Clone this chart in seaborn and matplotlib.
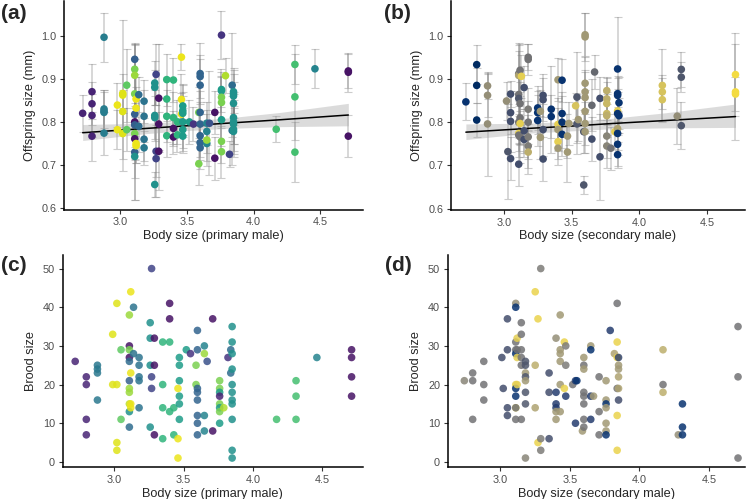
import numpy as np
import pandas as pd
import matplotlib
matplotlib.use("Agg")
import matplotlib.pyplot as plt
import seaborn as sns

# ---- panel (a): offspring size vs primary male body size (viridis colour) ----
a_x = [2.72,
       2.79, 2.79, 2.79, 2.79,
       2.88, 2.88, 2.88, 2.88, 2.88,
       2.98, 2.98,
       3.02, 3.02, 3.02, 3.02,
       3.05, 3.05,
       3.11, 3.11, 3.11, 3.11, 3.11, 3.11, 3.11, 3.11, 3.11, 3.11, 3.11,
       3.12, 3.12, 3.12, 3.12,
       3.14, 3.14,
       3.18, 3.18, 3.18, 3.18,
       3.26, 3.26, 3.26, 3.26, 3.26,
       3.27, 3.27, 3.27,
       3.29, 3.29, 3.29,
       3.35, 3.35, 3.35, 3.35,
       3.40, 3.40, 3.40, 3.40,
       3.43, 3.43,
       3.46, 3.46, 3.46,
       3.47, 3.47, 3.47, 3.47, 3.47, 3.47,
       3.52, 3.55,
       3.59, 3.59,
       3.60, 3.60, 3.60, 3.60, 3.60, 3.60, 3.60, 3.60,
       3.65, 3.65, 3.65, 3.65,
       3.67,
       3.71, 3.71,
       3.76, 3.76, 3.76, 3.76, 3.76, 3.76, 3.76, 3.76,
       3.79, 3.82,
       3.84, 3.84,
       3.85, 3.85, 3.85, 3.85, 3.85, 3.85, 3.85, 3.85, 3.85,
       4.17,
       4.31, 4.31, 4.31,
       4.46,
       4.71, 4.71, 4.71]
a_y = [0.820,
       0.870, 0.842, 0.815, 0.767,
       0.996, 0.830, 0.825, 0.822, 0.774,
       0.839, 0.782,
       0.866, 0.862, 0.824, 0.773,
       0.885, 0.782,
       0.945, 0.922, 0.908, 0.865, 0.818, 0.800, 0.793, 0.773, 0.761, 0.730, 0.720,
       0.853, 0.832, 0.750, 0.745,
       0.863, 0.790,
       0.848, 0.813, 0.760, 0.740,
       0.890, 0.880, 0.815, 0.810, 0.655,
       0.910, 0.732, 0.715,
       0.855, 0.795, 0.732,
       0.898, 0.853, 0.813, 0.768,
       0.897, 0.810, 0.785, 0.765,
       0.800, 0.770,
       0.950, 0.852, 0.818,
       0.837, 0.826, 0.820, 0.800, 0.782, 0.767,
       0.800, 0.795,
       0.822, 0.703,
       0.912, 0.905, 0.885, 0.822, 0.795, 0.768, 0.752, 0.740,
       0.797, 0.778, 0.750, 0.758,
       0.797,
       0.822, 0.716,
       1.001, 0.875, 0.872, 0.857, 0.845, 0.805, 0.755, 0.731,
       0.907, 0.725,
       0.885, 0.780,
       0.870, 0.865, 0.860, 0.843, 0.810, 0.800, 0.795, 0.783, 0.778,
       0.783,
       0.933, 0.858, 0.730,
       0.923,
       0.918, 0.915, 0.767]
a_err = [0.043,
         0.063, 0.050, 0.050, 0.057,
         0.057, 0.045, 0.050, 0.048, 0.050,
         0.050, 0.045,
         0.045, 0.175, 0.050, 0.060,
         0.085, 0.050,
         0.035, 0.060, 0.070, 0.080, 0.050, 0.180, 0.050, 0.060, 0.050, 0.060, 0.100,
         0.050, 0.050, 0.045, 0.040,
         0.040, 0.060,
         0.050, 0.060, 0.050, 0.040,
         0.050, 0.040, 0.060, 0.050, 0.030,
         0.070, 0.060, 0.090,
         0.125, 0.060, 0.090,
         0.060, 0.050, 0.060, 0.050,
         0.050, 0.060, 0.040, 0.040,
         0.050, 0.040,
         0.030, 0.060, 0.050,
         0.050, 0.060, 0.050, 0.060, 0.050, 0.040,
         0.050, 0.040,
         0.060, 0.050,
         0.070, 0.050, 0.060, 0.050, 0.050, 0.050, 0.040, 0.050,
         0.050, 0.050, 0.040, 0.060,
         0.120,
         0.050, 0.050,
         0.055, 0.040, 0.050, 0.050, 0.060, 0.060, 0.050, 0.060,
         0.040, 0.030,
         0.120, 0.080,
         0.050, 0.060, 0.050, 0.050, 0.060, 0.050, 0.070, 0.050, 0.060,
         0.030,
         0.045, 0.100, 0.070,
         0.045,
         0.040, 0.045, 0.048]
a_col = [0.10,
         0.10, 0.10, 0.10, 0.10,
         0.42, 0.42, 0.42, 0.42, 0.42,
         0.97, 0.97,
         0.95, 0.95, 0.95, 0.95,
         0.75, 0.75,
         0.30, 0.80, 0.85, 0.80, 0.30, 0.05, 0.30, 0.80, 0.05, 0.30, 0.50,
         0.97, 0.97, 0.97, 0.97,
         0.35, 0.35,
         0.38, 0.38, 0.38, 0.40,
         0.50, 0.50, 0.50, 0.50, 0.50,
         0.20, 0.20, 0.20,
         0.05, 0.05, 0.05,
         0.65, 0.65, 0.65, 0.65,
         0.65, 0.65, 0.05, 0.05,
         0.65, 0.65,
         0.97, 0.97, 0.97,
         0.55, 0.55, 0.55, 0.55, 0.55, 0.55,
         0.55, 0.15,
         0.80, 0.80,
         0.32, 0.32, 0.32, 0.32, 0.32, 0.32, 0.32, 0.32,
         0.45, 0.45, 0.45, 0.85,
         0.25,
         0.05, 0.05,
         0.15, 0.55, 0.55, 0.80, 0.80, 0.55, 0.80, 0.80,
         0.88, 0.20,
         0.35, 0.35,
         0.50, 0.50, 0.50, 0.50, 0.50, 0.50, 0.50, 0.50, 0.50,
         0.70,
         0.70, 0.70, 0.70,
         0.45,
         0.05, 0.05, 0.05]
# model fit (line and 95% band)
a_fit_x = [2.72, 3.20, 3.50, 3.80, 4.20, 4.71]
a_fit_y = [0.775, 0.785, 0.791, 0.797, 0.805, 0.816]
a_fit_lo = [0.757, 0.773, 0.780, 0.785, 0.789, 0.791]
a_fit_hi = [0.794, 0.797, 0.802, 0.809, 0.822, 0.843]

# ---- panel (b): offspring size vs secondary male body size (cividis colour) ----
b_x = [2.72,
       2.80, 2.80, 2.80,
       2.88, 2.88, 2.88,
       3.02, 3.03,
       3.05, 3.05, 3.05, 3.05,
       3.11, 3.11, 3.11, 3.11, 3.11, 3.11, 3.11, 3.11,
       3.12, 3.12, 3.12, 3.12, 3.12,
       3.13,
       3.15, 3.15, 3.15,
       3.18, 3.18, 3.18, 3.18, 3.18, 3.18, 3.18,
       3.25, 3.25, 3.25,
       3.27, 3.27,
       3.29, 3.29, 3.29, 3.29,
       3.35, 3.35,
       3.40, 3.40, 3.40, 3.40, 3.40,
       3.43, 3.43, 3.43, 3.43,
       3.47, 3.47, 3.48,
       3.53,
       3.54, 3.54,
       3.55,
       3.59, 3.59,
       3.60, 3.60, 3.60, 3.60, 3.60, 3.60, 3.60, 3.60,
       3.65, 3.65,
       3.67,
       3.71, 3.71,
       3.76, 3.76, 3.76, 3.76, 3.76, 3.76, 3.76,
       3.79, 3.82,
       3.84, 3.84, 3.84, 3.84, 3.84, 3.84, 3.84, 3.84, 3.84,
       3.85, 3.85,
       4.17, 4.17, 4.17,
       4.28,
       4.31, 4.31, 4.31,
       4.71, 4.71, 4.71]
b_y = [0.847,
       0.933, 0.885, 0.805,
       0.884, 0.862, 0.796,
       0.849, 0.732,
       0.865, 0.822, 0.802, 0.716,
       0.912, 0.908, 0.864, 0.855, 0.800, 0.774, 0.770, 0.703,
       0.920, 0.843, 0.810, 0.797, 0.766,
       0.906,
       0.880, 0.780, 0.760,
       0.950, 0.945, 0.830, 0.800, 0.766, 0.745, 0.731,
       0.833, 0.822, 0.804,
       0.825, 0.765,
       0.862, 0.852, 0.783, 0.715,
       0.830, 0.813,
       0.898, 0.795, 0.783, 0.755, 0.740,
       0.897, 0.820, 0.800, 0.772,
       0.768, 0.731, 0.797,
       0.838,
       0.858, 0.796,
       0.806,
       0.778, 0.655,
       1.002, 0.997, 0.890, 0.870, 0.857, 0.825, 0.797, 0.778,
       0.839, 0.761,
       0.916,
       0.855, 0.720,
       0.873, 0.854, 0.843, 0.820, 0.815, 0.768, 0.745,
       0.740, 0.778,
       0.923, 0.866, 0.862, 0.826, 0.820, 0.785, 0.774, 0.749, 0.725,
       0.845, 0.815,
       0.885, 0.870, 0.852,
       0.814,
       0.922, 0.904, 0.792,
       0.910, 0.870, 0.865]
b_err = [0.043,
         0.045, 0.040, 0.040,
         0.030, 0.050, 0.120,
         0.045, 0.110,
         0.030, 0.050, 0.070, 0.050,
         0.070, 0.070, 0.100, 0.060, 0.050, 0.040, 0.050, 0.050,
         0.060, 0.050, 0.060, 0.050, 0.060,
         0.050,
         0.050, 0.050, 0.040,
         0.030, 0.035, 0.050, 0.050, 0.050, 0.050, 0.050,
         0.050, 0.050, 0.060,
         0.050, 0.050,
         0.050, 0.050, 0.060, 0.050,
         0.100, 0.050,
         0.050, 0.060, 0.050, 0.040, 0.040,
         0.050, 0.050, 0.060, 0.050,
         0.050, 0.070, 0.050,
         0.030,
         0.105, 0.070,
         0.050,
         0.050, 0.020,
         0.050, 0.055, 0.060, 0.050, 0.060, 0.050, 0.050, 0.050,
         0.060, 0.050,
         0.040,
         0.050, 0.100,
         0.030, 0.050, 0.050, 0.050, 0.050, 0.050, 0.050,
         0.050, 0.040,
         0.120, 0.040, 0.040, 0.050, 0.050, 0.050, 0.050, 0.050, 0.030,
         0.060, 0.040,
         0.085, 0.040, 0.050,
         0.065,
         0.040, 0.035, 0.055,
         0.095, 0.110, 0.040]
b_col = [0.10,
         0.05, 0.05, 0.05,
         0.60, 0.60, 0.60,
         0.60, 0.30,
         0.25, 0.25, 0.25, 0.25,
         0.45, 0.70, 0.45, 0.30, 0.45, 0.90, 0.45, 0.25,
         0.45, 0.45, 0.45, 0.90, 0.45,
         0.90,
         0.25, 0.25, 0.25,
         0.45, 0.45, 0.50, 0.45, 0.50, 0.50, 0.75,
         0.10, 0.10, 0.10,
         0.65, 0.65,
         0.25, 0.25, 0.25, 0.25,
         0.10, 0.10,
         0.65, 0.90, 0.65, 0.90, 0.65,
         0.10, 0.10, 0.10, 0.10,
         0.65, 0.65, 0.65,
         0.85,
         0.30, 0.30,
         0.65,
         0.30, 0.30,
         0.65, 0.65, 0.65, 0.65, 0.65, 0.65, 0.65, 0.65,
         0.40, 0.25,
         0.40,
         0.25, 0.25,
         0.75, 0.75, 0.80, 0.80, 0.75, 0.55, 0.55,
         0.45, 0.90,
         0.10, 0.10, 0.10, 0.90, 0.10, 0.70, 0.10, 0.10, 0.10,
         0.10, 0.10,
         0.85, 0.85, 0.85,
         0.60,
         0.30, 0.30, 0.30,
         0.95, 0.95, 0.95]
b_fit_x = [2.72, 3.20, 3.50, 3.80, 4.20, 4.71]
b_fit_y = [0.777, 0.786, 0.791, 0.797, 0.804, 0.813]
b_fit_lo = [0.760, 0.775, 0.780, 0.785, 0.787, 0.788]
b_fit_hi = [0.796, 0.798, 0.802, 0.809, 0.822, 0.842]

# ---- panel (c): brood size vs primary male body size ----
c_x = [2.72,
       2.80, 2.80, 2.80, 2.80,
       2.88, 2.88, 2.88, 2.88,
       2.99, 2.99,
       3.02, 3.02, 3.02, 3.02,
       3.05, 3.05,
       3.11, 3.11, 3.11, 3.11, 3.11, 3.11, 3.11, 3.11, 3.11, 3.11, 3.11,
       3.12, 3.12, 3.12, 3.12,
       3.14, 3.14,
       3.18, 3.18, 3.18, 3.18, 3.18,
       3.26, 3.26, 3.26, 3.26,
       3.27, 3.27, 3.27,
       3.29, 3.29, 3.29,
       3.35, 3.35, 3.35, 3.35,
       3.40, 3.40, 3.40, 3.40,
       3.43, 3.43,
       3.46, 3.46, 3.46,
       3.47, 3.47, 3.47, 3.47, 3.47, 3.47,
       3.52, 3.55,
       3.59, 3.59,
       3.60, 3.60, 3.60, 3.60, 3.60, 3.60, 3.60, 3.60,
       3.65, 3.65, 3.65, 3.65,
       3.67,
       3.71, 3.71,
       3.76, 3.76, 3.76, 3.76, 3.76, 3.76, 3.76, 3.76,
       3.79, 3.82,
       3.84, 3.84,
       3.85, 3.85, 3.85, 3.85, 3.85, 3.85, 3.85, 3.85, 3.85, 3.85, 3.85,
       4.17,
       4.31, 4.31, 4.31,
       4.46,
       4.71, 4.71, 4.71, 4.71]
c_y = [26,
       22, 20, 11, 7,
       25, 24, 23, 16,
       33, 20,
       41, 20, 5, 3,
       29, 11,
       38, 30, 29, 27, 26, 21, 19, 18, 15, 13, 9,
       44, 23, 15, 14,
       40, 28,
       27, 25, 22, 21, 14,
       36, 32, 25, 9,
       50, 22, 19,
       32, 25, 7,
       31, 20, 14, 6,
       41, 37, 31, 13,
       14, 7,
       19, 6, 1,
       27, 25, 21, 17, 15, 11,
       29, 28,
       25, 20,
       34, 29, 19, 18, 16, 12, 10, 7,
       30, 28, 12, 8,
       26,
       37, 8,
       21, 19, 18, 17, 15, 14, 13, 10,
       14, 27,
       29, 23,
       35, 31, 28, 24, 20, 18, 16, 15, 11, 3, 1,
       11,
       21, 17, 11,
       27,
       29, 27, 22, 17]
c_col = [0.10,
         0.10, 0.10, 0.10, 0.10,
         0.40, 0.40, 0.40, 0.40,
         0.95, 0.95,
         0.95, 0.95, 0.95, 0.95,
         0.75, 0.75,
         0.85, 0.05, 0.80, 0.05, 0.35, 0.30, 0.85, 0.85, 0.90, 0.50, 0.35,
         0.97, 0.97, 0.97, 0.97,
         0.38, 0.38,
         0.38, 0.38, 0.38, 0.38, 0.38,
         0.50, 0.50, 0.50, 0.50,
         0.20, 0.20, 0.20,
         0.05, 0.05, 0.05,
         0.65, 0.65, 0.65, 0.65,
         0.05, 0.05, 0.65, 0.65,
         0.65, 0.65,
         0.97, 0.97, 0.97,
         0.55, 0.55, 0.55, 0.55, 0.55, 0.55,
         0.55, 0.15,
         0.80, 0.80,
         0.32, 0.32, 0.32, 0.32, 0.32, 0.32, 0.32, 0.32,
         0.45, 0.85, 0.45, 0.45,
         0.25,
         0.05, 0.05,
         0.80, 0.80, 0.55, 0.10, 0.80, 0.55, 0.80, 0.55,
         0.88, 0.15,
         0.35, 0.35,
         0.50, 0.50, 0.50, 0.50, 0.50, 0.50, 0.50, 0.50, 0.50, 0.50, 0.50,
         0.70,
         0.70, 0.70, 0.70,
         0.45,
         0.05, 0.05, 0.05, 0.05]

# ---- panel (d): brood size vs secondary male body size ----
d_x = [2.74,
       2.80, 2.80, 2.80,
       2.88, 2.88, 2.88,
       3.01, 3.02,
       3.05, 3.05, 3.05, 3.05,
       3.11, 3.11, 3.11, 3.11, 3.11, 3.11, 3.11, 3.11, 3.11, 3.11, 3.11,
       3.12, 3.12, 3.12, 3.12,
       3.15, 3.15, 3.15, 3.15, 3.15, 3.15,
       3.18, 3.18, 3.18, 3.18, 3.18, 3.18, 3.18, 3.18,
       3.25, 3.25, 3.25,
       3.27, 3.27,
       3.29, 3.29, 3.29,
       3.35, 3.35, 3.35,
       3.40, 3.40, 3.40, 3.40, 3.40, 3.40,
       3.43, 3.43, 3.43, 3.43, 3.43, 3.43,
       3.46, 3.46,
       3.47, 3.47, 3.47,
       3.52,
       3.54, 3.54,
       3.55, 3.59,
       3.60, 3.60, 3.60, 3.60, 3.60, 3.60, 3.60, 3.60,
       3.65, 3.65, 3.65, 3.65,
       3.67,
       3.71, 3.71, 3.71,
       3.76, 3.76, 3.76, 3.76, 3.76, 3.76, 3.76,
       3.79, 3.82,
       3.84, 3.84, 3.84, 3.84, 3.84, 3.84,
       3.85, 3.85, 3.85, 3.85, 3.85, 3.85,
       4.17, 4.17, 4.17,
       4.28,
       4.31, 4.31, 4.31,
       4.71, 4.71, 4.71]
d_y = [21,
       23, 21, 11,
       26, 20, 16,
       27, 19,
       37, 29, 14, 12,
       41, 40, 31, 29, 28, 20, 19, 17, 14, 14, 11,
       32, 29, 27, 20,
       36, 33, 29, 27, 25, 11,
       26, 25, 23, 22, 21, 18, 15, 1,
       44, 25, 14,
       37, 5,
       50, 6, 3,
       23, 18, 6,
       32, 18, 15, 14, 13, 11,
       38, 29, 28, 26, 20, 13,
       31, 19,
       30, 25, 17,
       20,
       21, 10,
       21, 8,
       27, 25, 24, 18, 17, 15, 11, 9,
       30, 29, 17, 11,
       17,
       22, 13, 7,
       21, 16, 15, 14, 10, 8, 7,
       34, 28,
       41, 31, 27, 19, 12, 3,
       27, 25, 24, 22, 19, 16,
       29, 20, 18,
       7,
       15, 9, 7,
       35, 22, 1]
d_col = [0.55,
         0.45, 0.45, 0.45,
         0.45, 0.45, 0.45,
         0.25, 0.25,
         0.25, 0.25, 0.25, 0.25,
         0.60, 0.10, 0.45, 0.45, 0.10, 0.90, 0.10, 0.10, 0.90, 0.45, 0.45,
         0.90, 0.45, 0.90, 0.90,
         0.45, 0.45, 0.45, 0.45, 0.45, 0.45,
         0.30, 0.30, 0.65, 0.30, 0.65, 0.30, 0.30, 0.55,
         0.92, 0.75, 0.70,
         0.92, 0.92,
         0.50, 0.50, 0.50,
         0.25, 0.25, 0.25,
         0.60, 0.15, 0.15, 0.15, 0.65, 0.65,
         0.65, 0.65, 0.65, 0.65, 0.65, 0.65,
         0.92, 0.92,
         0.50, 0.50, 0.15,
         0.45,
         0.15, 0.15,
         0.10, 0.65,
         0.65, 0.45, 0.65, 0.45, 0.45, 0.45, 0.45, 0.45,
         0.65, 0.10, 0.15, 0.15,
         0.65,
         0.45, 0.45, 0.45,
         0.65, 0.65, 0.10, 0.65, 0.65, 0.65, 0.10,
         0.15, 0.70,
         0.45, 0.92, 0.92, 0.45, 0.92, 0.92,
         0.20, 0.65, 0.65, 0.70, 0.70, 0.25,
         0.75, 0.45, 0.75,
         0.60,
         0.10, 0.10, 0.10,
         0.45, 0.45, 0.45]

x_ticks = [3.0, 3.5, 4.0, 4.5]
offspring_ticks = [0.6, 0.7, 0.8, 0.9, 1.0]
brood_ticks = [0, 10, 20, 30, 40, 50]

sns.set_theme(style="ticks")
plt.rcParams["font.family"] = ["Liberation Sans", "DejaVu Sans"]


def style_axis(ax, xlabel, ylabel, yticks, fmt):
    sns.despine(ax=ax)
    for side in ["left", "bottom"]:
        ax.spines[side].set_color("black")
        ax.spines[side].set_linewidth(1.1)
    ax.set_xticks(x_ticks)
    ax.set_xticklabels([f"{t:.1f}" for t in x_ticks])
    ax.set_yticks(yticks)
    ax.set_yticklabels([fmt.format(t) for t in yticks])
    ax.tick_params(colors="#333333", labelcolor="#4d4d4d", labelsize=7.8,
                   length=3, width=0.8, pad=2.5)
    ax.set_xlabel(xlabel, fontsize=9.2, labelpad=2)
    ax.set_ylabel(ylabel, fontsize=9.2, labelpad=4)


def offspring_panel(ax, x, y, err, col, fit_x, fit_y, fit_lo, fit_hi,
                    cmap, xlabel, xlim):
    ax.errorbar(x, y, yerr=err, fmt="none", ecolor="grey", alpha=0.4,
                elinewidth=1.1, capsize=3.2, capthick=0.8, zorder=1)
    ax.fill_between(fit_x, fit_lo, fit_hi, color="#a6a6a6", alpha=0.4,
                    linewidth=0, zorder=2)
    sns.lineplot(x=fit_x, y=fit_y, ax=ax, color="black", lw=1.1, zorder=3)
    df = pd.DataFrame({"x": x, "y": y, "c": col})
    sns.scatterplot(data=df, x="x", y="y", hue="c", palette=cmap,
                    hue_norm=(0, 1), s=30, linewidth=0, legend=False,
                    ax=ax, zorder=4)
    ax.set_xlim(*xlim)
    ax.set_ylim(0.597, 1.08)
    style_axis(ax, xlabel, "Offspring size (mm)", offspring_ticks, "{:.1f}")


def brood_panel(ax, x, y, col, cmap, xlabel, xlim):
    df = pd.DataFrame({"x": x, "y": y, "c": col})
    sns.scatterplot(data=df, x="x", y="y", hue="c", palette=cmap,
                    hue_norm=(0, 1), s=30, linewidth=0, alpha=0.85,
                    legend=False, ax=ax)
    ax.set_xlim(*xlim)
    ax.set_ylim(-1.4, 53.5)
    style_axis(ax, xlabel, "Brood size", brood_ticks, "{:d}")


fig = plt.figure(figsize=(7.5, 4.99), dpi=100)
ax_a = fig.add_axes([0.0853, 0.580, 0.3987, 0.418])
ax_b = fig.add_axes([0.6013, 0.579, 0.392, 0.419])
ax_c = fig.add_axes([0.0836, 0.0635, 0.400, 0.4254])
ax_d = fig.add_axes([0.5969, 0.0635, 0.3964, 0.4254])

offspring_panel(ax_a, a_x, a_y, a_err, a_col, a_fit_x, a_fit_y, a_fit_lo,
                a_fit_hi, "viridis", "Body size (primary male)", (2.58, 4.82))
offspring_panel(ax_b, b_x, b_y, b_err, b_col, b_fit_x, b_fit_y, b_fit_lo,
                b_fit_hi, "cividis", "Body size (secondary male)", (2.61, 4.78))
brood_panel(ax_c, c_x, c_y, c_col, "viridis",
            "Body size (primary male)", (2.63, 4.79))
brood_panel(ax_d, d_x, d_y, d_col, "cividis",
            "Body size (secondary male)", (2.62, 4.76))

for label, px, py in [("(a)", 0.002, 0.972), ("(b)", 0.512, 0.972),
                      ("(c)", 0.002, 0.468), ("(d)", 0.514, 0.468)]:
    fig.text(px, py, label, fontsize=15, fontweight="bold", va="center")

fig.savefig("out.png", dpi=100)
plt.close(fig)
